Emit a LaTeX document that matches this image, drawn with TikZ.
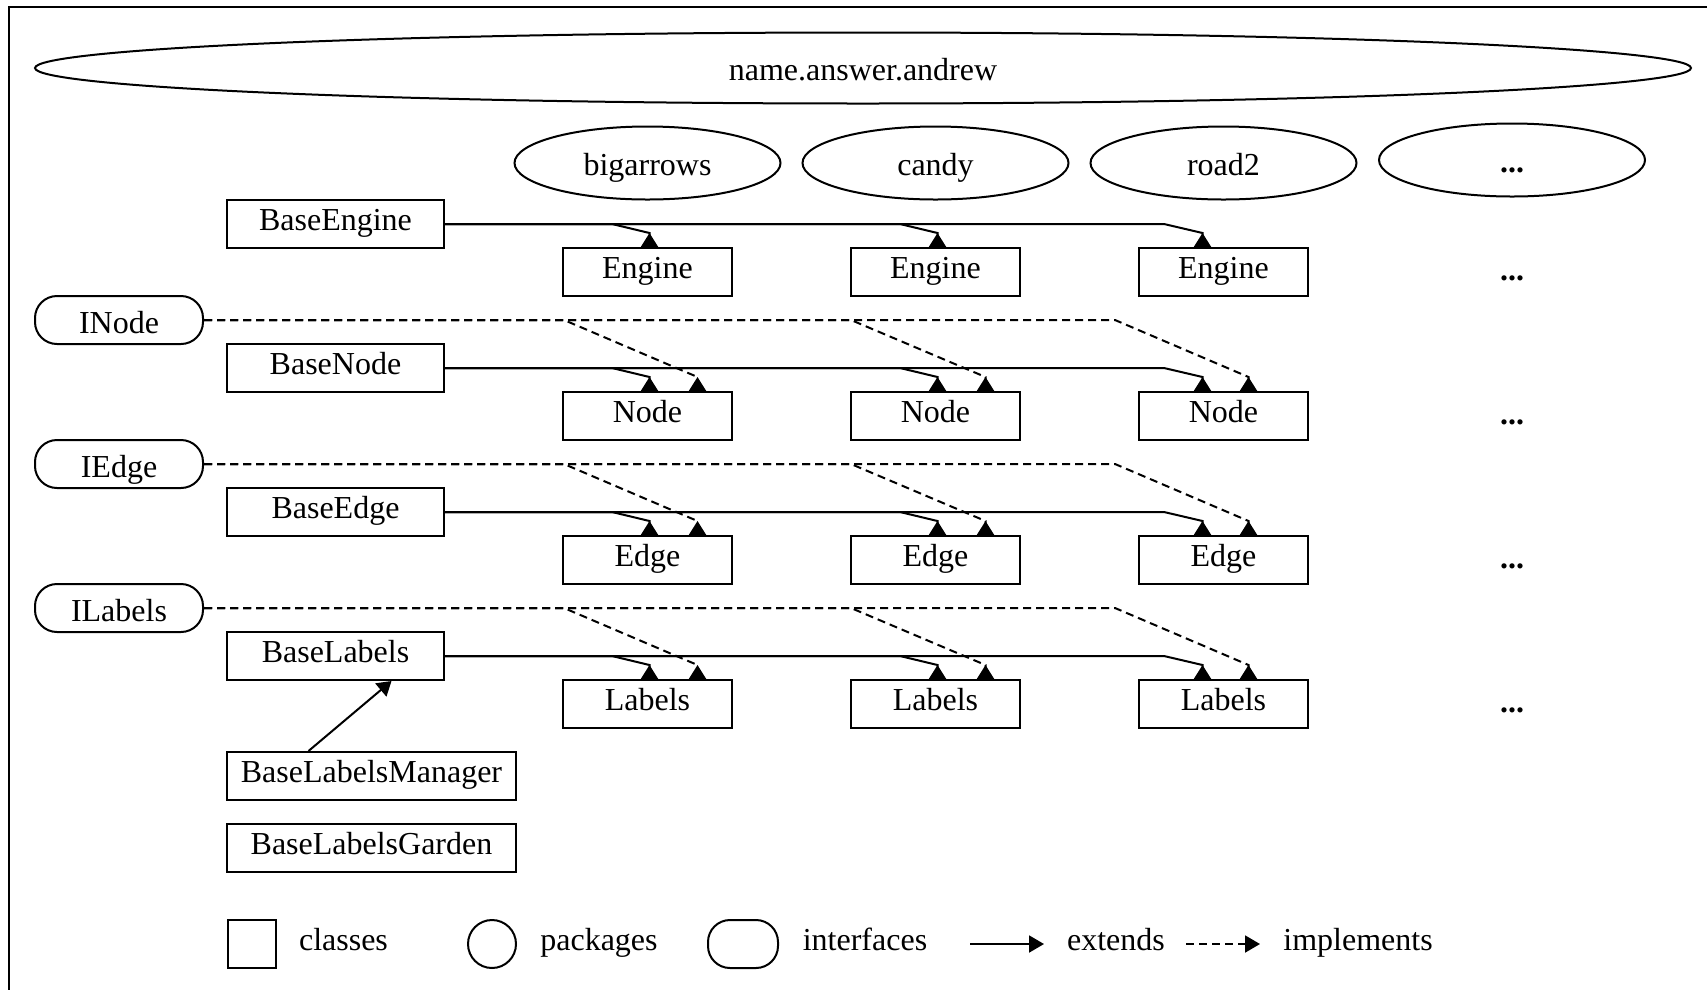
\documentclass[tikz,border=0pt]{standalone}
\usepackage{fontspec}
\setmainfont{Liberation Serif}
\usetikzlibrary{arrows.meta,positioning,shapes.geometric}

\begin{document}
\begin{tikzpicture}[
    x=1pt, y=-1pt, line width=2pt,
    every node/.style={font=\fontsize{32}{37}\selectfont, inner sep=0pt},
    cls/.style={rectangle, draw, minimum height=48pt, text height=19pt, text depth=7pt},
    base/.style={cls, minimum width=217pt},
    impl/.style={cls, minimum width=169pt},
    pkg/.style={ellipse, draw, minimum width=266pt, minimum height=73pt,
                text height=25pt, text depth=1pt},
    ifc/.style={rectangle, draw, rounded corners=22pt, minimum width=168pt,
                minimum height=48pt, text height=27pt, text depth=1pt},
    txt/.style={text height=19pt, text depth=7pt},
    more/.style={font=\fontsize{32}{37}\selectfont\bfseries, text height=19pt, text depth=3pt},
    ext/.style={-{Triangle[reversed, length=14pt, width=17pt]}},
    imp/.style={ext, dash pattern=on 8pt off 5pt}
  ]
  \useasboundingbox (0,0) rectangle (1707,989);
  \draw (9,7) rectangle (1760,1040);

  % packages
  \node[pkg, minimum width=1656pt, minimum height=71pt] (answer) at (863,68) {name.answer.andrew};
  \node[pkg] (bigarrows) at (647.5,163) {bigarrows};
  \node[pkg] (candy)     at (935.5,163) {candy};
  \node[pkg] (road)      at (1223.5,163) {road2};
  \node[pkg] (pkgMore)   at (1512,160) {\textbf{...}};

  % base classes and interfaces
  \node[base] (baseEngine) at (335.5,224) {BaseEngine};
  \node[ifc]  (iNode)      at (119,320)   {INode};
  \node[base] (baseNode)   at (335.5,368) {BaseNode};
  \node[ifc]  (iEdge)      at (119,464)   {IEdge};
  \node[base] (baseEdge)   at (335.5,512) {BaseEdge};
  \node[ifc]  (iLabels)    at (119,608)   {ILabels};
  \node[base] (baseLabels) at (335.5,656) {BaseLabels};
  \node[cls, minimum width=289pt] (baseLabelsMgr) at (371.5,776) {BaseLabelsManager};
  \node[cls, minimum width=289pt] (baseLabelsGdn) at (371.5,848) {BaseLabelsGarden};

  % implementations
  \node[impl] (engineA) at (647.5,272)  {Engine};
  \node[impl] (engineB) at (935.5,272)  {Engine};
  \node[impl] (engineC) at (1223.5,272) {Engine};
  \node[impl] (nodeA)   at (647.5,416)  {Node};
  \node[impl] (nodeB)   at (935.5,416)  {Node};
  \node[impl] (nodeC)   at (1223.5,416) {Node};
  \node[impl] (edgeA)   at (647.5,560)  {Edge};
  \node[impl] (edgeB)   at (935.5,560)  {Edge};
  \node[impl] (edgeC)   at (1223.5,560) {Edge};
  \node[impl] (labelsA) at (647.5,704)  {Labels};
  \node[impl] (labelsB) at (935.5,704)  {Labels};
  \node[impl] (labelsC) at (1223.5,704) {Labels};
  \node[more] (moreA) at (1512,272) {...};
  \node[more] (moreB) at (1512,416) {...};
  \node[more] (moreC) at (1512,560) {...};
  \node[more] (moreD) at (1512,704) {...};

  % extends
  \draw[ext] (baseEngine.east) -- (612,224)  -- ([xshift=2pt,yshift=14pt]engineA.north) -- ([xshift=2pt]engineA.north);
  \draw[ext] (baseEngine.east) -- (900,224)  -- ([xshift=2pt,yshift=14pt]engineB.north) -- ([xshift=2pt]engineB.north);
  \draw[ext] (baseEngine.east) -- (1164,224) -- ([xshift=-21pt,yshift=14pt]engineC.north) -- ([xshift=-21pt]engineC.north);
  \draw[ext] (baseNode.east) -- (612,368)  -- ([xshift=2pt,yshift=14pt]nodeA.north) -- ([xshift=2pt]nodeA.north);
  \draw[ext] (baseNode.east) -- (900,368)  -- ([xshift=2pt,yshift=14pt]nodeB.north) -- ([xshift=2pt]nodeB.north);
  \draw[ext] (baseNode.east) -- (1164,368) -- ([xshift=-21pt,yshift=14pt]nodeC.north) -- ([xshift=-21pt]nodeC.north);
  \draw[ext] (baseEdge.east) -- (612,512)  -- ([xshift=2pt,yshift=14pt]edgeA.north) -- ([xshift=2pt]edgeA.north);
  \draw[ext] (baseEdge.east) -- (900,512)  -- ([xshift=2pt,yshift=14pt]edgeB.north) -- ([xshift=2pt]edgeB.north);
  \draw[ext] (baseEdge.east) -- (1164,512) -- ([xshift=-21pt,yshift=14pt]edgeC.north) -- ([xshift=-21pt]edgeC.north);
  \draw[ext] (baseLabels.east) -- (612,656)  -- ([xshift=2pt,yshift=14pt]labelsA.north) -- ([xshift=2pt]labelsA.north);
  \draw[ext] (baseLabels.east) -- (900,656)  -- ([xshift=2pt,yshift=14pt]labelsB.north) -- ([xshift=2pt]labelsB.north);
  \draw[ext] (baseLabels.east) -- (1164,656) -- ([xshift=-21pt,yshift=14pt]labelsC.north) -- ([xshift=-21pt]labelsC.north);
  \draw[-{Triangle[length=14pt, width=17pt]}] ([xshift=-63pt]baseLabelsMgr.north) -- ([xshift=56pt]baseLabels.south);

  % implements
  \draw[imp] (iNode.east) -- (564,320)  -- ([xshift=50pt,yshift=14pt]nodeA.north) -- ([xshift=50pt]nodeA.north);
  \draw[imp] (iNode.east) -- (851,320)  -- ([xshift=50pt,yshift=14pt]nodeB.north) -- ([xshift=50pt]nodeB.north);
  \draw[imp] (iNode.east) -- (1115,320) -- ([xshift=25pt,yshift=14pt]nodeC.north) -- ([xshift=25pt]nodeC.north);
  \draw[imp] (iEdge.east) -- (564,464)  -- ([xshift=50pt,yshift=14pt]edgeA.north) -- ([xshift=50pt]edgeA.north);
  \draw[imp] (iEdge.east) -- (851,464)  -- ([xshift=50pt,yshift=14pt]edgeB.north) -- ([xshift=50pt]edgeB.north);
  \draw[imp] (iEdge.east) -- (1115,464) -- ([xshift=25pt,yshift=14pt]edgeC.north) -- ([xshift=25pt]edgeC.north);
  \draw[imp] (iLabels.east) -- (564,608)  -- ([xshift=50pt,yshift=14pt]labelsA.north) -- ([xshift=50pt]labelsA.north);
  \draw[imp] (iLabels.east) -- (851,608)  -- ([xshift=50pt,yshift=14pt]labelsB.north) -- ([xshift=50pt]labelsB.north);
  \draw[imp] (iLabels.east) -- (1115,608) -- ([xshift=25pt,yshift=14pt]labelsC.north) -- ([xshift=25pt]labelsC.north);

  % legend
  \node[cls, minimum width=48pt] (lgClass) at (251.5,944) {};
  \node[txt] (lgClassText) at (343.5,944) {classes};
  \node[circle, draw, minimum size=48pt] (lgPackage) at (492,944) {};
  \node[txt] (lgPackageText) at (599,944) {packages};
  \node[ifc, minimum width=70pt] (lgIface) at (743,944) {};
  \node[txt] (lgIfaceText) at (865,944) {interfaces};
  \coordinate (lgExtFrom) at (970,944);
  \coordinate (lgExtTo)   at (1044,944);
  \draw[-{Triangle[length=15pt, width=17pt]}] (lgExtFrom) -- (lgExtTo);
  \node[txt] (lgExtText) at (1116,944) {extends};
  \coordinate (lgImpFrom) at (1186,944);
  \coordinate (lgImpTo)   at (1260,944);
  \draw[-{Triangle[length=15pt, width=17pt]}, dash pattern=on 8pt off 5pt] (lgImpFrom) -- (lgImpTo);
  \node[txt] (lgImpText) at (1358,944) {implements};
\end{tikzpicture}
\end{document}
